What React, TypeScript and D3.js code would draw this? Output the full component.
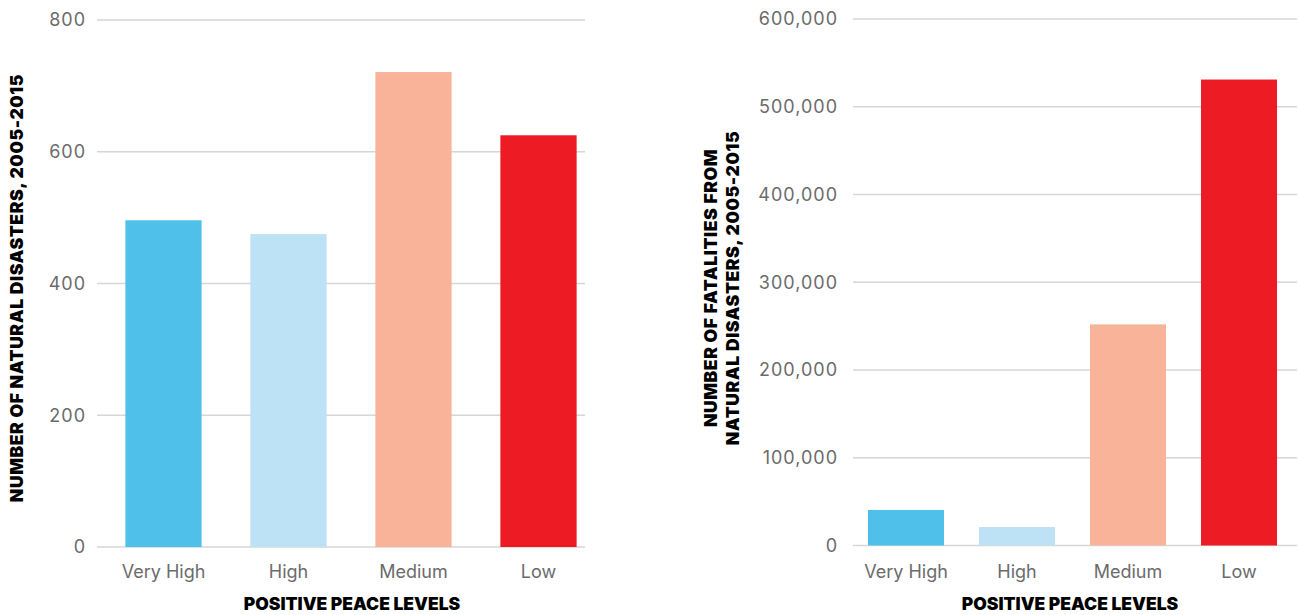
import React from "react";
import * as d3 from "d3";

const categories = ["Very High", "High", "Medium", "Low"];
const disasterCounts = [496, 475, 721, 625];
const fatalityCounts = [40500, 21000, 252000, 531000];
const leftTicks = [0, 200, 400, 600, 800];
const rightTicks = [0, 100000, 200000, 300000, 400000, 500000, 600000];
const barColors = ["#4FC0EA", "#BDE2F5", "#F8B399", "#ED1C24"];
const xTitle = "POSITIVE PEACE LEVELS";
const leftYTitle = ["NUMBER OF NATURAL DISASTERS, 2005-2015"];
const rightYTitle = ["NUMBER OF FATALITIES FROM", "NATURAL DISASTERS, 2005-2015"];

const W = 1298;
const H = 615;
const FONT = "Inter, 'Open Sans', sans-serif";

type PanelProps = {
  values: number[];
  ticks: number[];
  yMax: number;
  yRange: [number, number];
  gridX: [number, number];
  bandRange: [number, number];
  paddingInner: number;
  paddingOuter: number;
  labelX: number;
  fmt: (v: number) => string;
  yTitle: string[];
  yTitleX: number;
  xTitleX: number;
};

function Panel(p: PanelProps) {
  const y = d3.scaleLinear().domain([0, p.yMax]).range(p.yRange);
  const x = d3
    .scaleBand<string>()
    .domain(categories)
    .range(p.bandRange)
    .paddingInner(p.paddingInner)
    .paddingOuter(p.paddingOuter);
  const yMid = 288;
  return (
    <g>
      {p.ticks.map((t) => (
        <g key={t}>
          <line
            x1={p.gridX[0]}
            x2={p.gridX[1]}
            y1={y(t)}
            y2={y(t)}
            stroke="#d6d6d6"
            strokeWidth={1.5}
          />
          <text
            x={p.labelX}
            y={y(t)}
            dy="0.35em"
            textAnchor="end"
            fontFamily={FONT}
            fontSize={18}
            letterSpacing={1}
            fill="#6b6b6b"
          >
            {p.fmt(t)}
          </text>
        </g>
      ))}
      {categories.map((c, i) => (
        <rect
          key={c}
          x={x(c)}
          y={y(p.values[i])}
          width={x.bandwidth()}
          height={y(0) - y(p.values[i])}
          fill={barColors[i]}
        />
      ))}
      {categories.map((c) => (
        <text
          key={c}
          x={(x(c) as number) + x.bandwidth() / 2}
          y={572}
          dy="0.35em"
          textAnchor="middle"
          fontFamily={FONT}
          fontSize={18}
          fill="#6b6b6b"
        >
          {c}
        </text>
      ))}
      <text
        x={p.xTitleX}
        y={610}
        textAnchor="middle"
        fontFamily={FONT}
        fontWeight={900}
        fontSize={17.5}
        fill="#000"
      >
        {xTitle}
      </text>
      <text
        transform={`translate(${p.yTitleX},${yMid}) rotate(-90)`}
        textAnchor="middle"
        fontFamily={FONT}
        fontWeight={900}
        fontSize={17.5}
        letterSpacing={0.6}
        fill="#000"
      >
        {p.yTitle.map((line, i) => (
          <tspan key={i} x={0} y={i * 22 - ((p.yTitle.length - 1) * 22) / 2} dy="0.35em">
            {line}
          </tspan>
        ))}
      </text>
    </g>
  );
}

export default function App() {
  const fmtComma = d3.format(",");
  return (
    <svg
      width={W}
      height={H}
      style={{ position: "absolute", left: 0, top: 0, background: "#fff" }}
    >
      <Panel
        values={disasterCounts}
        ticks={leftTicks}
        yMax={800}
        yRange={[547, 20]}
        gridX={[97, 585]}
        bandRange={[101, 601]}
        paddingInner={0.39}
        paddingOuter={0.195}
        labelX={86}
        fmt={(v) => String(v)}
        yTitle={leftYTitle}
        yTitleX={17}
        xTitleX={352}
      />
      <Panel
        values={fatalityCounts}
        ticks={rightTicks}
        yMax={600000}
        yRange={[545.5, 19]}
        gridX={[853, 1297]}
        bandRange={[850.5, 1294.5]}
        paddingInner={0.315}
        paddingOuter={0.1575}
        labelX={838}
        fmt={fmtComma}
        yTitle={rightYTitle}
        yTitleX={722}
        xTitleX={1070}
      />
    </svg>
  );
}
